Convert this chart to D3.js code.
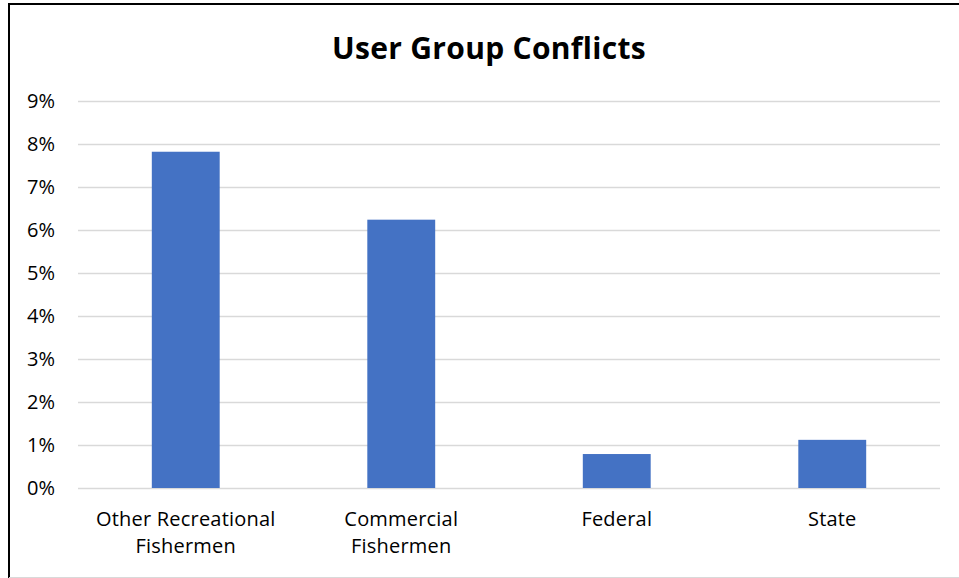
<!DOCTYPE html>
<html>
<head>
<meta charset="utf-8">
<script src="https://cdn.jsdelivr.net/npm/d3@7"></script>
<style>
  body { margin: 0; background: #fff; }
  text { font-family: "Open Sans", "Noto Sans", sans-serif; }
</style>
</head>
<body>
<div id="chart"></div>
<script>
// data
const categories = ["Other Recreational Fishermen", "Commercial Fishermen", "Federal", "State"];
const categoryLines = [["Other Recreational", "Fishermen"], ["Commercial", "Fishermen"], ["Federal"], ["State"]];
const values = [0.0782, 0.0624, 0.0079, 0.0112];
const yTicks = [0, 0.01, 0.02, 0.03, 0.04, 0.05, 0.06, 0.07, 0.08, 0.09];

const W = 959, H = 578;
const margin = { top: 101, right: 19, bottom: 90, left: 78 };
const width = W - margin.left - margin.right;
const height = H - margin.top - margin.bottom;

const root = d3.select("#chart").append("svg")
    .attr("width", W)
    .attr("height", H);

// outer frame
root.append("line").attr("x1", 9).attr("x2", 9).attr("y1", 3).attr("y2", H)
    .style("stroke", "#000").style("stroke-width", 2);
root.append("line").attr("x1", 9).attr("x2", W).attr("y1", 4).attr("y2", 4)
    .style("stroke", "#000").style("stroke-width", 2);
root.append("line").attr("x1", 9).attr("x2", W).attr("y1", H - 0.5).attr("y2", H - 0.5)
    .style("stroke", "#d9d9d9").style("stroke-width", 1);

root.append("text")
    .attr("x", 489)
    .attr("y", 59)
    .attr("text-anchor", "middle")
    .style("font-size", "30px")
    .style("font-weight", "bold")
    .style("letter-spacing", "0.3px")
    .text("User Group Conflicts");

const svg = root.append("g")
    .attr("transform", "translate(" + margin.left + "," + margin.top + ")");

const x = d3.scaleBand().domain(categories).range([0, width]).paddingInner(0.685).paddingOuter(0.3425);
const y = d3.scaleLinear().domain([0, 0.09]).range([height, 0]);

// gridlines
svg.selectAll(".grid")
    .data(yTicks)
  .enter().append("line")
    .attr("class", "grid")
    .attr("x1", 0)
    .attr("x2", width)
    .attr("y1", d => Math.round(y(d)) + 0.5)
    .attr("y2", d => Math.round(y(d)) + 0.5)
    .style("stroke", "#d9d9d9")
    .style("stroke-width", 1.5);

const yAxis = d3.axisLeft(y).tickValues(yTicks).tickFormat(d3.format(".0%")).tickSize(0).tickPadding(23);
svg.append("g")
    .attr("class", "y axis")
    .call(yAxis)
    .call(g => g.select(".domain").remove())
    .call(g => g.selectAll("text").style("font-size", "20px").style("fill", "#000").attr("font-family", null));

svg.selectAll(".bar")
    .data(values)
  .enter().append("rect")
    .attr("class", "bar")
    .attr("x", (d, i) => x(categories[i]))
    .attr("width", x.bandwidth())
    .attr("y", d => y(d))
    .attr("height", d => height - y(d))
    .style("fill", "#4472c4");

const labels = svg.selectAll(".xlabel")
    .data(categories)
  .enter().append("text")
    .attr("class", "xlabel")
    .attr("text-anchor", "middle")
    .attr("transform", d => "translate(" + (x(d) + x.bandwidth() / 2) + "," + (height + 38) + ")")
    .style("font-size", "20px")
    .style("letter-spacing", "0.2px")
    .style("fill", "#000");

labels.selectAll("tspan")
    .data((d, i) => categoryLines[i])
  .enter().append("tspan")
    .attr("x", 0)
    .attr("dy", (d, i) => i === 0 ? 0 : 27)
    .text(d => d);
</script>
</body>
</html>
